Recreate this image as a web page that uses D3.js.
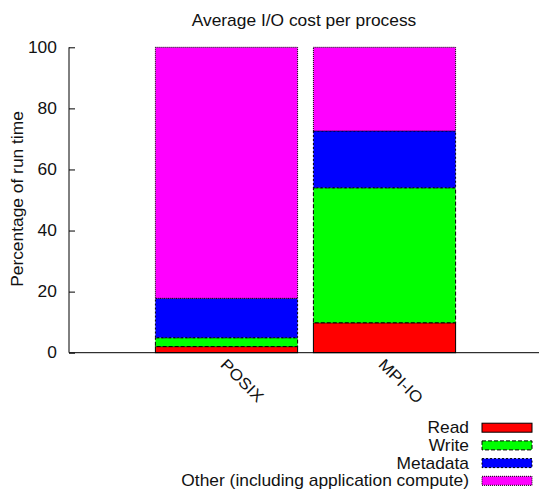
<!DOCTYPE html>
<html>
<head>
<meta charset="utf-8">
<script src="https://cdnjs.cloudflare.com/ajax/libs/d3/7.8.5/d3.min.js"></script>
<style>
  html, body { margin: 0; padding: 0; background: #fff; }
  svg text { font-family: "Liberation Sans", Arial, Helvetica, sans-serif; fill: #111; }
</style>
</head>
<body>
<script>

// chart data
var categories = [ 'POSIX', 'MPI-IO' ],
    seriesNames = [ 'Read', 'Write', 'Metadata', 'Other (including application compute)' ],
    readValues = [ 2.0, 9.8 ],
    writeValues = [ 2.9, 44.2 ],
    metadataValues = [ 12.9, 18.6 ],
    otherValues = [ 82.2, 27.4 ],
    yTicks = [ 0, 20, 40, 60, 80, 100 ];


var width = 539,
    height = 492,

    plotLeft = 69,
    plotBottom = 352.7,
    plotTop = 47.3,

    // the reference font is a bit wide for its height
    fontSize = '15.8px',
    stretch = 'scale(1.1,1)',

    colors = [ '#ff0000', '#00ff00', '#0000ff', '#ff00ff' ],
    dashes = [ null, '4,2', '2,2', '1,1' ],

    svg = d3.select('body')
        .append('svg')
            .attr('width', width)
            .attr('height', height);


// gnuplot style histogram: bars at 0, 1 with xrange [-1, 2]
var x = d3.scaleLinear()
        .domain([ -1, 2 ])
        .range([ plotLeft - 0.5, 542.5 ]),

    y = d3.scaleLinear()
        .domain([ 0, 100 ])
        .range([ plotBottom, plotTop ]),

    barWidth = x(0.9) - x(0);


var rows = categories.map(function(c, i) {
    return {
        cat: c,
        Read: readValues[i],
        Write: writeValues[i],
        Metadata: metadataValues[i],
        Other: otherValues[i]
    };
});

var stack = d3.stack().keys([ 'Read', 'Write', 'Metadata', 'Other' ])(rows);


// bars
stack.forEach(function(layer, k) {

    svg.append('g')
        .selectAll('rect')
        .data(layer)
        .enter()
        .append('rect')
            .attr('x', function(d, i) { return x(i) - barWidth / 2; })
            .attr('y', function(d) { return y(d[1]); })
            .attr('width', barWidth)
            .attr('height', function(d) { return y(d[0]) - y(d[1]); })
            .attr('fill', colors[k])
            .attr('stroke', '#000')
            .attr('stroke-width', 1)
            .attr('stroke-dasharray', dashes[k]);
});


// axes
var yAxis = d3.axisLeft(y)
        .tickValues(yTicks)
        .tickSize(-6)
        .tickPadding(11);

var gy = svg.append('g')
    .attr('transform', 'translate(' + plotLeft + ',0)')
    .call(yAxis);

gy.select('.domain').remove();
gy.selectAll('.tick line').attr('stroke', '#000');
gy.selectAll('.tick text')
    .style('font-size', fontSize)
    .attr('fill', '#111')
    .attr('transform', stretch);

svg.append('line')
    .attr('x1', plotLeft).attr('x2', plotLeft)
    .attr('y1', plotTop).attr('y2', plotBottom)
    .attr('stroke', '#000');

svg.append('line')
    .attr('x1', plotLeft).attr('x2', width)
    .attr('y1', plotBottom).attr('y2', plotBottom)
    .attr('stroke', '#000');


// rotated category labels
svg.append('g')
    .selectAll('text')
    .data(categories)
    .enter()
    .append('text')
        .attr('transform', function(d, i) {
            return 'translate(' + (x(i) - 3) + ',' + (plotBottom + 9) + ') rotate(45) ' + stretch;
        })
        .attr('text-anchor', 'start')
        .attr('dy', '0.35em')
        .style('font-size', fontSize)
        .text(function(d) { return d; });


// title and y label
svg.append('text')
    .attr('transform', 'translate(' + (plotLeft + width) / 2 + ',26) ' + stretch)
    .attr('text-anchor', 'middle')
    .style('font-size', fontSize)
    .text('Average I/O cost per process');

svg.append('text')
    .attr('transform', 'translate(23,199) rotate(-90) ' + stretch)
    .attr('text-anchor', 'middle')
    .style('font-size', fontSize)
    .text('Percentage of run time');


// legend
var legend = svg.append('g')
    .selectAll('g')
    .data(seriesNames)
    .enter()
    .append('g')
        .attr('transform', function(d, i) {
            return 'translate(0,' + (427.7 + i * 17.7) + ')';
        });

legend.append('text')
    .attr('transform', 'translate(469,0) ' + stretch)
    .attr('dy', '0.35em')
    .attr('text-anchor', 'end')
    .style('font-size', fontSize)
    .text(function(d) { return d; });

legend.append('rect')
    .attr('x', 482)
    .attr('y', -4.5)
    .attr('width', 50)
    .attr('height', 9)
    .attr('fill', function(d, i) { return colors[i]; })
    .attr('stroke', '#000')
    .attr('stroke-width', 1)
    .attr('stroke-dasharray', function(d, i) { return dashes[i]; });

</script>
</body>
</html>
